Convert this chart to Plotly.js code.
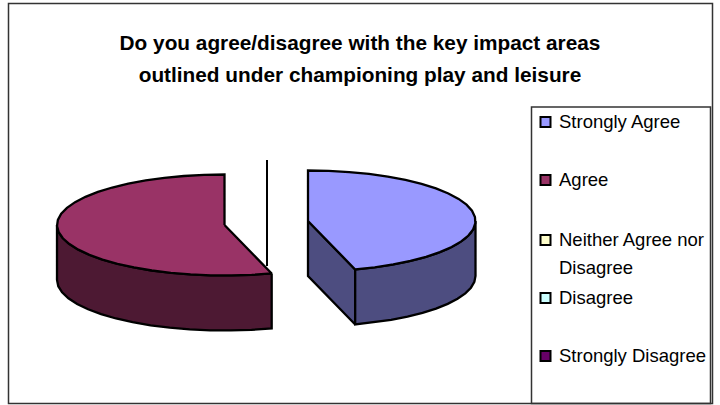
<!DOCTYPE html>
<html><head><meta charset="utf-8">
<script src="https://cdn.plot.ly/plotly-3.0.1.min.js"></script>
<style>html,body{margin:0;padding:0;background:#fff}#c{width:720px;height:405px}</style>
</head><body><div id="c"></div>
<script>
const categories = ["Strongly Agree","Agree","Neither Agree nor Disagree","Disagree","Strongly Disagree"];
const legendLabels = ["Strongly Agree","Agree","Neither Agree nor<br>Disagree","Disagree","Strongly Disagree"];
const values = [5,6,0,0,0];
const topColours = ["#9999FF","#993366","#FFFFCC","#CCFFFF","#660066"];
const sideColours = ["#4D4D80","#4D1933","#808066","#668080","#330033"];
const titleLines = "Do you agree/disagree with the key impact areas<br>outlined under championing play and leisure";

// drawing geometry, in picture pixels
const RX=167.5, RY=50.5, DEPTH=55, STEP=7;
const centres = [[308,221],[224.5,225]];
const legendY = [122,180,240,298,356];
const labelY  = [121,179,253,297,355];

const total = values.reduce((a,b)=>a+b,0);
const rad = d=>d*Math.PI/180;
function arc(c,t0,t1,dy){
  const n=Math.max(1,Math.round((t1-t0)/STEP)), xs=[], ys=[];
  for(let i=0;i<=n;i++){
    const t=rad(t0+(t1-t0)*i/n);
    xs.push(c[0]+RX*Math.sin(t)); ys.push(c[1]-RY*Math.cos(t)+dy);
  }
  return [xs,ys];
}
function poly(xs,ys,fill){
  return {type:"scatter",mode:"lines",x:xs.concat(xs[0]),y:ys.concat(ys[0]),fill:"toself",fillcolor:fill,
    line:{color:"#000",width:2.3},hoverinfo:"skip",showlegend:false};
}
const traces=[];
let start=0;
values.forEach((v,i)=>{
  if(!v) return;
  const end=start+v/total*360, c=centres[i];
  const tops=arc(c,start,end,0);
  const wall0=Math.max(start,90), wall1=Math.min(end,270);
  if(start===0){
    traces.push(poly([c[0],c[0],tops[0][tops[0].length-1],tops[0][tops[0].length-1]],
      [c[1],c[1]+DEPTH,tops[1][tops[1].length-1]+DEPTH,tops[1][tops[1].length-1]],sideColours[i]));
  }
  if(wall1>wall0){
    const up=arc(c,wall0,wall1,0), dn=arc(c,wall0,wall1,DEPTH);
    traces.push(poly(up[0].concat(dn[0].slice().reverse()),up[1].concat(dn[1].slice().reverse()),sideColours[i]));
  }
  traces.push(poly([c[0]].concat(tops[0]),[c[1]].concat(tops[1]),topColours[i]));
  start=end;
});
traces.push({type:"scatter",mode:"markers",x:categories.map(()=>545.5),y:legendY,
  marker:{symbol:"square",size:10,color:topColours,line:{color:"#000",width:2}},hoverinfo:"skip",showlegend:false});

const annotations=legendLabels.map((t,i)=>({
  text:'<span style="font-size:18.5px">'+t.replace("<br>",'</span><br><span style="font-size:18.5px">')+'</span>',
  x:557,y:labelY[i],xref:"x",yref:"y",xanchor:"left",yanchor:"middle",
  showarrow:false,align:"left",font:{family:"Liberation Sans",size:21.5,color:"#000"}}));

const layout={
  width:720,height:405,margin:{l:0,r:0,t:0,b:0},paper_bgcolor:"#fff",plot_bgcolor:"#fff",showlegend:false,
  xaxis:{range:[0,720],visible:false,fixedrange:true},
  yaxis:{range:[405,0],visible:false,fixedrange:true},
  title:{text:'<span style="font-size:20.8px"><b>'+titleLines.replace("<br>",'</b></span><br><span style="font-size:20.8px"><b>')+'</b></span>',
    x:0.5,xanchor:"center",y:0.876,yanchor:"middle",xref:"container",yref:"container",
    font:{family:"Liberation Sans",size:24.6,color:"#000"}},
  annotations,
  shapes:[
    {type:"rect",xref:"x",yref:"y",x0:8.5,x1:712.5,y0:3.5,y1:403.5,line:{color:"#333",width:1.5},layer:"below"},
    {type:"rect",xref:"x",yref:"y",x0:531.5,x1:710.5,y0:107,y1:403.5,line:{color:"#333",width:1.5},layer:"below"},
    {type:"line",xref:"x",yref:"y",x0:267,x1:267,y0:160,y1:266,line:{color:"#000",width:2}}
  ]
};
Plotly.newPlot("c",traces,layout,{displayModeBar:false,staticPlot:true});
</script></body></html>
